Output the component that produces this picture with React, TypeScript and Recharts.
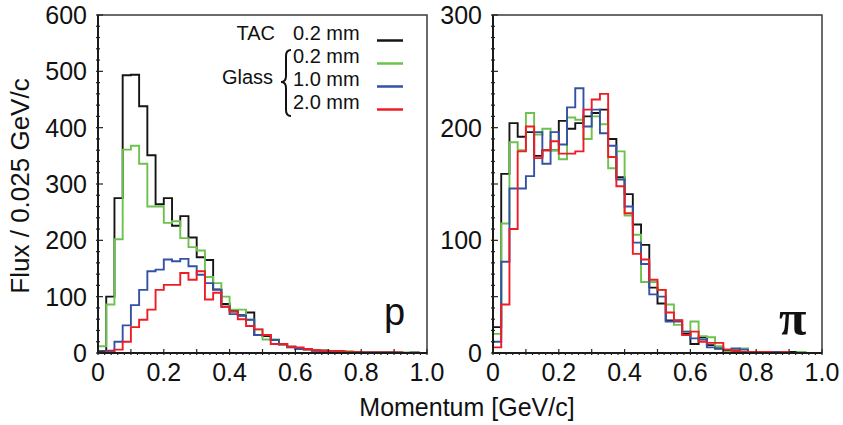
import React from 'react';
import { ComposedChart, Line, XAxis, YAxis, ReferenceArea } from 'recharts';

// Bin low edges (GeV/c), 40 bins of 0.025 plus the closing edge at 1.0
const binEdges = [
  0, 0.025, 0.05, 0.075, 0.1, 0.125, 0.15, 0.175, 0.2, 0.225,
  0.25, 0.275, 0.3, 0.325, 0.35, 0.375, 0.4, 0.425, 0.45, 0.475,
  0.5, 0.525, 0.55, 0.575, 0.6, 0.625, 0.65, 0.675, 0.7, 0.725,
  0.75, 0.775, 0.8, 0.825, 0.85, 0.875, 0.9, 0.925, 0.95, 0.975, 1.0,
];

// Proton panel
const pTAC02 = [3, 100, 275, 493, 494, 438, 351, 264, 275, 226, 243, 205, 170, 165, 113, 87, 76, 67, 72, 32, 30, 23, 15, 10, 7, 6, 5, 4, 3, 3, 2, 2, 2, 1, 1, 1, 1, 0, 1, 0];
const pGlass02 = [12, 86, 202, 361, 368, 336, 260, 260, 231, 234, 204, 188, 182, 135, 124, 100, 77, 77, 59, 42, 24, 24, 16, 11, 8, 7, 5, 4, 3, 2, 3, 2, 2, 1, 1, 1, 0, 1, 0, 0];
const pGlass10 = [1, 4, 20, 49, 85, 112, 145, 148, 166, 163, 167, 154, 139, 124, 112, 82, 69, 66, 59, 32, 32, 23, 16, 11, 7, 7, 4, 4, 3, 2, 2, 1, 1, 1, 1, 1, 0, 0, 0, 0];
const pGlass20 = [0, 2, 6, 20, 46, 59, 77, 112, 121, 121, 142, 130, 145, 95, 107, 82, 73, 60, 48, 42, 32, 16, 16, 11, 10, 7, 5, 4, 3, 3, 2, 2, 1, 1, 1, 1, 1, 0, 0, 0];

// Pion panel
const piTAC02 = [23, 159, 204, 192, 196, 175, 180, 180, 206, 199, 204, 210, 213, 216, 190, 156, 141, 114, 96, 58, 44, 29, 29, 17, 8, 14, 7, 4, 2, 2, 1, 1, 1, 0, 1, 0, 1, 0, 0, 0];
const piGlass02 = [17, 115, 187, 180, 213, 194, 199, 180, 172, 209, 207, 190, 210, 203, 164, 179, 122, 105, 63, 63, 56, 43, 25, 19, 28, 15, 14, 6, 1, 3, 4, 1, 1, 1, 0, 1, 0, 1, 0, 0];
const piGlass10 = [10, 81, 146, 146, 157, 196, 168, 196, 185, 218, 235, 201, 216, 195, 184, 154, 130, 98, 79, 52, 50, 28, 28, 19, 13, 12, 5, 4, 3, 4, 3, 1, 1, 1, 1, 0, 0, 0, 0, 0];
const piGlass20 = [5, 43, 110, 179, 201, 173, 180, 188, 177, 177, 179, 216, 225, 230, 174, 148, 124, 88, 83, 65, 56, 36, 29, 16, 19, 10, 9, 9, 3, 2, 1, 1, 1, 1, 0, 1, 0, 0, 0, 0];

const seriesNames = ['TAC', 'Glass', '', ''];
const legendThickness = ['0.2 mm', '0.2 mm', '1.0 mm', '2.0 mm'];
const colors = ['#151515', '#6cc24c', '#3452a5', '#ee1d25'];

const xTicks = Array.from({ length: 51 }, (_, i) => i / 50);
const yTicksP = Array.from({ length: 31 }, (_, i) => i * 20);
const yTicksPi = Array.from({ length: 31 }, (_, i) => i * 10);

const FONT = '"Liberation Sans", Arial, Helvetica, sans-serif';

function buildRows(s: number[][]) {
  return binEdges.map((x, i) => {
    const j = Math.min(i, s[0].length - 1);
    return { x, tac: s[0][j], g02: s[1][j], g10: s[2][j], g20: s[3][j] };
  });
}

const protonRows = buildRows([pTAC02, pGlass02, pGlass10, pGlass20]);
const pionRows = buildRows([piTAC02, piGlass02, piGlass10, piGlass20]);

const near = (v: number, step: number) => Math.abs(v / step - Math.round(v / step)) < 1e-6;

const XTick = (props: any) => {
  const { x, y, payload } = props;
  const v = payload.value as number;
  const major = near(v, 0.1);
  const labeled = near(v, 0.2);
  const len = major ? 6 : 3;
  const label = v === 0 ? '0' : v.toFixed(1);
  return (
    <g>
      <line x1={x} x2={x} y1={y} y2={y - len} stroke="#222" strokeWidth={1.2} />
      {labeled && (
        <text x={x} y={y + 26} textAnchor="middle" fontSize={25} fontFamily={FONT} fill="#111">
          {label}
        </text>
      )}
    </g>
  );
};

const makeYTick = (majorStep: number, labelStep: number) => (props: any) => {
  const { x, y, payload } = props;
  const v = payload.value as number;
  const major = near(v, majorStep);
  const labeled = near(v, labelStep);
  const len = major ? 7 : 4;
  return (
    <g>
      <line x1={x} x2={x + len} y1={y} y2={y} stroke="#222" strokeWidth={1.2} />
      {labeled && (
        <text x={x - 9} y={y + 9} textAnchor="end" fontSize={25} fontFamily={FONT} fill="#111">
          {String(v)}
        </text>
      )}
    </g>
  );
};

const YTickP = makeYTick(100, 100);
const YTickPi = makeYTick(50, 100);

const keys = ['tac', 'g02', 'g10', 'g20'];

function Panel(props: { rows: any[]; yMax: number; yTicks: number[]; yTick: any; width: number; margin: any; yWidth: number }) {
  const { rows, yMax, yTicks, yTick, width, margin, yWidth } = props;
  return (
    <ComposedChart width={width} height={425} data={rows} margin={margin}>
      <XAxis
        dataKey="x"
        type="number"
        domain={[0, 1]}
        ticks={xTicks}
        interval={0}
        tickSize={0}
        tickLine={false}
        tick={XTick}
        height={30}
        axisLine={{ stroke: '#1a1a1a', strokeWidth: 2 }}
        allowDataOverflow
      />
      <YAxis
        type="number"
        domain={[0, yMax]}
        ticks={yTicks}
        interval={0}
        tickSize={0}
        tickLine={false}
        tick={yTick}
        width={yWidth}
        axisLine={{ stroke: '#1a1a1a', strokeWidth: 2 }}
        allowDataOverflow
      />
      <ReferenceArea x1={0} x2={1} y1={0} y2={yMax} fill="none" stroke="#3a3a3a" strokeWidth={1.5} />
      {keys.map((k, i) => (
        <Line
          key={k}
          dataKey={k}
          type="stepAfter"
          stroke={colors[i]}
          strokeWidth={1.9}
          dot={false}
          activeDot={false}
          isAnimationActive={false}
        />
      ))}
    </ComposedChart>
  );
}

export default function App() {
  const legendY = [40, 63, 86, 109];
  return (
    <div style={{ position: 'absolute', left: 0, top: 0, width: 843, height: 425, background: '#fff' }}>
      <style>{`.recharts-surface{overflow:visible}`}</style>
      <div style={{ position: 'absolute', left: 0, top: 0 }}>
        <Panel
          rows={protonRows}
          yMax={600}
          yTicks={yTicksP}
          yTick={YTickP}
          width={440}
          yWidth={60}
          margin={{ top: 15, right: 13, bottom: 42, left: 38 }}
        />
      </div>
      <div style={{ position: 'absolute', left: 440, top: 0 }}>
        <Panel
          rows={pionRows}
          yMax={300}
          yTicks={yTicksPi}
          yTick={YTickPi}
          width={403}
          yWidth={45}
          margin={{ top: 15, right: 21, bottom: 42, left: 8 }}
        />
      </div>
      <svg
        width={843}
        height={425}
        style={{ position: 'absolute', left: 0, top: 0, pointerEvents: 'none' }}
      >
        <text
          x={29}
          y={186}
          transform="rotate(-90 29 186)"
          textAnchor="middle"
          fontSize={26}
          fontFamily={FONT}
          fill="#111"
        >
          Flux / 0.025 GeV/c
        </text>
        <text x={467} y={416} textAnchor="middle" fontSize={25} fontFamily={FONT} fill="#111">
          Momentum [GeV/c]
        </text>
        <text x={384} y={325} fontSize={38} fontFamily={FONT} fill="#111">p</text>
        <text x={779} y={335} fontSize={50} fontWeight="bold" fontFamily='"Liberation Serif", "DejaVu Serif", serif' fill="#111">π</text>
        {/* legend */}
        <text x={275} y={legendY[0]} textAnchor="end" fontSize={20} fontFamily={FONT} fill="#111">{seriesNames[0]}</text>
        <text x={273} y={84} textAnchor="end" fontSize={20} fontFamily={FONT} fill="#111">{seriesNames[1]}</text>
        <path
          d="M 291 50 Q 286 50 286 56 L 286 76 Q 286 82 281 82 Q 286 82 286 88 L 286 110 Q 286 116 291 116"
          stroke="#111"
          strokeWidth={2}
          fill="none"
        />
        {legendThickness.map((t, i) => (
          <g key={i}>
            <text x={293} y={legendY[i]} fontSize={20} fontFamily={FONT} fill="#111">{t}</text>
            <line x1={377} x2={403} y1={legendY[i] + 0.5} y2={legendY[i] + 0.5} stroke={colors[i]} strokeWidth={2.5} />
          </g>
        ))}
      </svg>
    </div>
  );
}
